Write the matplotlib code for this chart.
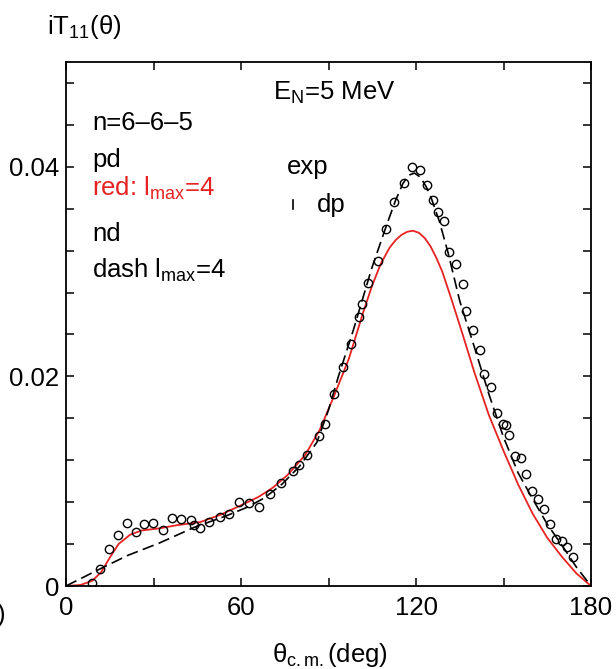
import matplotlib
matplotlib.use("Agg")
import matplotlib.pyplot as plt
from matplotlib.lines import Line2D
from matplotlib.ticker import MultipleLocator, FixedLocator, FuncFormatter

plt.rcParams['font.family'] = ['Liberation Sans', 'DejaVu Sans']
plt.rcParams['mathtext.fontset'] = 'custom'
plt.rcParams['mathtext.rm'] = 'Liberation Sans'
plt.rcParams['mathtext.it'] = 'Liberation Sans:italic'
plt.rcParams['mathtext.bf'] = 'Liberation Sans:bold'

# ---- data ----
exp_theta = [8.8, 11.7, 14.8, 17.9, 20.8, 24.0, 26.8, 29.9, 33.2, 36.2, 39.4, 42.7, 44.0, 45.9,
             49.1, 52.7, 55.8, 59.3, 62.7, 66.2, 70.1, 73.7, 77.7, 79.9, 82.5, 86.8, 88.8, 92.0,
             94.9, 97.6, 100.6, 101.6, 103.6, 106.8, 109.8, 112.4, 116.0, 118.5, 121.2, 123.7,
             125.9, 127.6, 129.7, 131.4, 133.7, 136.0, 137.2, 139.6, 141.9, 143.4, 145.7, 147.8,
             149.9, 150.8, 152.0, 153.8, 155.9, 157.8, 159.7, 161.7, 163.8, 165.9, 168.0, 169.9,
             171.9, 173.9]
exp_val = [0.0003, 0.0016, 0.0035, 0.0049, 0.0060, 0.0052, 0.0059, 0.0060, 0.0053, 0.0065, 0.0064,
           0.0063, 0.0058, 0.0055, 0.0061, 0.0066, 0.0069, 0.0080, 0.0079, 0.0075, 0.0088, 0.0098,
           0.0110, 0.0115, 0.0125, 0.0143, 0.0155, 0.0183, 0.0209, 0.0231, 0.0257, 0.0269, 0.0289,
           0.0310, 0.0341, 0.0366, 0.0385, 0.0400, 0.0397, 0.0383, 0.0368, 0.0357, 0.0348, 0.0319,
           0.0307, 0.0288, 0.0262, 0.0244, 0.0225, 0.0202, 0.0190, 0.0165, 0.0155, 0.0154, 0.0144,
           0.0124, 0.0122, 0.0107, 0.0091, 0.0083, 0.0073, 0.0059, 0.0045, 0.0043, 0.0037, 0.0028]

red_theta = [0, 5, 9, 12, 15, 18, 22, 26, 32, 38, 46, 53, 60, 66, 71, 76, 82, 87, 92, 97, 102,
             105, 108, 111, 113, 115, 117, 119, 121, 123, 125, 127, 129, 132, 136, 140, 145, 150,
             155, 160, 165, 170, 175, 180]
red_val = [0, 0.0001, 0.0005, 0.0013, 0.0027, 0.0040, 0.0049, 0.0053, 0.0055, 0.0058, 0.0061,
           0.0068, 0.0077, 0.0085, 0.0094, 0.0106, 0.0125, 0.0149, 0.0182, 0.0217, 0.0262,
           0.0287, 0.0308, 0.0323, 0.0330, 0.0335, 0.0338, 0.0339, 0.0337, 0.0332, 0.0324, 0.0313,
           0.0300, 0.0275, 0.0240, 0.0204, 0.0163, 0.0129, 0.0097, 0.0069, 0.0046, 0.0028, 0.0012, 0]

dash_theta = [0, 10, 21, 32, 44, 55, 62, 68, 74, 80, 86, 90, 93.4, 98.5, 104.8, 110, 113, 115.5,
              117.5, 119.5, 121.5, 123.5, 125, 128, 131, 135, 140, 145, 150, 155, 160, 165, 170,
              175, 180]
dash_val = [0, 0.0014, 0.0029, 0.0041, 0.0056, 0.0067, 0.0075, 0.0084, 0.0097, 0.0114, 0.0137,
            0.0168, 0.0200, 0.0244, 0.0303, 0.0345, 0.0368, 0.0384, 0.0392, 0.0394, 0.0390, 0.0381,
            0.0372, 0.0348, 0.0318, 0.0272, 0.0228, 0.0183, 0.0142, 0.0108, 0.0083, 0.0059, 0.0039,
            0.0018, 0]

xticks_major = [0, 60, 120, 180]
yticks_major = [0, 0.02, 0.04]

W, H = 616, 669
fig = plt.figure(figsize=(W / 100, H / 100), dpi=100)
ax = fig.add_axes([66 / W, 1 - 586 / H, (591 - 66) / W, (586 - 62) / H])

RED = '#e62222'
ax.plot(red_theta, red_val, color=RED, lw=1.3, zorder=2)
ax.plot(dash_theta, dash_val, color='black', lw=1.2, dashes=(7, 3.2), zorder=3)
ax.plot(exp_theta, exp_val, linestyle='none', marker='o', markersize=6.0, markerfacecolor='none',
        markeredgecolor='black', markeredgewidth=1.0, zorder=4)

ax.set_xlim(0, 180)
ax.set_ylim(0, 0.05)
ax.xaxis.set_major_locator(FixedLocator(xticks_major))
ax.xaxis.set_minor_locator(MultipleLocator(30))
ax.yaxis.set_major_locator(FixedLocator(yticks_major))
ax.yaxis.set_minor_locator(MultipleLocator(0.004))
ax.yaxis.set_major_formatter(FuncFormatter(lambda v, p: '0' if v == 0 else f'{v:.2f}'))
ax.tick_params(which='both', direction='in', top=True, right=True, length=6, width=1.1,
               labelsize=18.5)
ax.tick_params(axis='x', pad=7)
ax.tick_params(axis='y', pad=5)
for s in ax.spines.values():
    s.set_linewidth(1.3)

def ft(x, y, s, **kw):
    fig.text(x / W, 1 - y / H, s, va='baseline', ha='left', **kw)

FS = 18.5
ft(47, 34, r'$\mathregular{iT_{11}(θ)}$', fontsize=FS)
ft(273, 100, r'$\mathregular{E_N}$=5 MeV', fontsize=FS)
ft(92, 130, 'n=6–6–5', fontsize=FS)
ft(92, 167, 'pd', fontsize=FS)
ft(92, 196, r'red: $\mathregular{l_{max}}$=4', fontsize=FS, color=RED)
ft(92, 241, 'nd', fontsize=FS)
ft(92, 278, r'dash $\mathregular{l_{max}}$=4', fontsize=FS)
ft(287, 174, 'exp', fontsize=FS)
ft(317, 212, 'dp', fontsize=FS)
fig.add_artist(Line2D([293 / W, 293 / W], [1 - 209 / H, 1 - 200 / H], color='black', lw=1.2))
ft(272, 662, r'$\mathregular{θ_{c.m.}(deg)}$', fontsize=FS)
ft(-3, 622, ')', fontsize=FS)

fig.savefig('out.png', dpi=100)
